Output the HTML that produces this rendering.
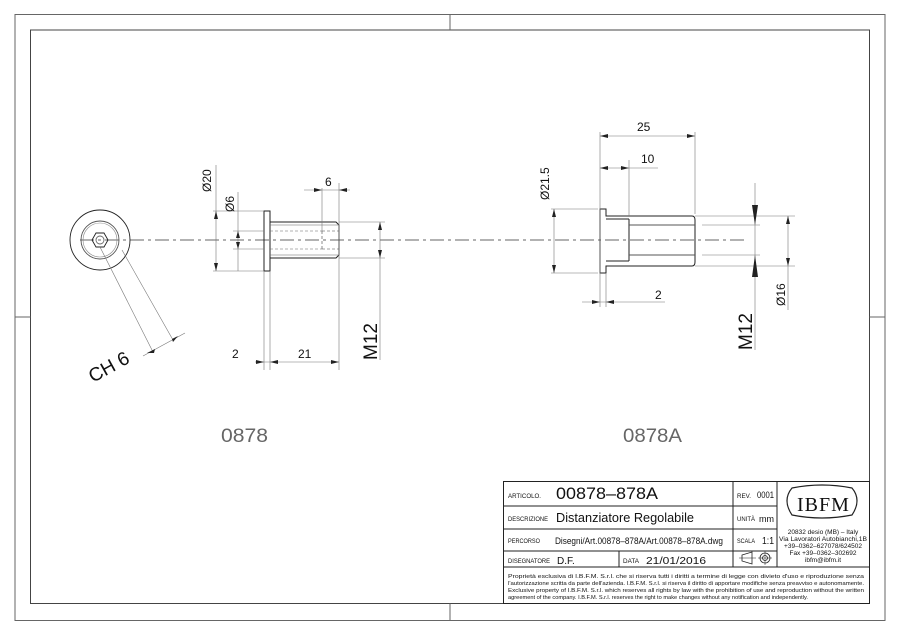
<!DOCTYPE html>
<html><head><meta charset="utf-8"><style>
html,body{margin:0;padding:0;background:#fff;}
svg{display:block;}
text{font-family:"Liberation Sans",sans-serif;fill:#111;}
</style></head><body>
<svg width="900" height="635" viewBox="0 0 900 635" xmlns="http://www.w3.org/2000/svg">
<rect x="0" y="0" width="900" height="635" fill="#fff"/>
<rect x="15" y="14.5" width="870" height="606" fill="none" stroke="#666" stroke-width="1"/>
<rect x="30.5" y="30" width="839" height="573.5" fill="none" stroke="#444" stroke-width="1"/>
<line x1="450" y1="14.5" x2="450" y2="30" stroke="#666"/>
<line x1="450" y1="603.5" x2="450" y2="620.5" stroke="#666"/>
<line x1="15" y1="317" x2="30.5" y2="317" stroke="#666"/>
<line x1="869.5" y1="317" x2="885" y2="317" stroke="#666"/>

<line x1="80" y1="240" x2="748" y2="240" stroke="#333" stroke-width="0.7" stroke-dasharray="14,4,3,4"/>

<g fill="none" stroke="#222" stroke-width="0.9">
<circle cx="100" cy="240" r="30"/>
<circle cx="100" cy="240" r="19" stroke="#555"/>
<circle cx="100" cy="240" r="17" stroke="#888" stroke-width="0.6"/>
<polygon points="108,240 104,233 96,233 92,240 96,247 104,247"/>
<circle cx="100" cy="240" r="4" stroke="#666"/>
</g>
<g stroke="#777" stroke-width="0.6" fill="none">
<line x1="100" y1="247" x2="153" y2="352"/>
<line x1="122" y1="250" x2="173" y2="340"/>
<line x1="143" y1="356" x2="185" y2="333"/>
</g>
<polygon points="147,353 155,349 154,353" fill="#222"/>
<polygon points="172,339 178,336 173,342" fill="#222"/>
<text x="0" y="0" font-size="19" transform="translate(93,383) rotate(-29)">CH 6</text>

<g fill="none" stroke="#222" stroke-width="1">
<rect x="264" y="211" width="6" height="60"/>
<path d="M270,222 L336,222 L339,225 L339,255 L336,258 L270,258"/>
</g>
<g fill="none" stroke="#666" stroke-width="0.6">
<line x1="270" y1="225" x2="339" y2="225"/>
<line x1="270" y1="255" x2="339" y2="255"/>
<path d="M322,231 L339,231 M322,249 L339,249 M322,231 L322,249" stroke-dasharray="3,2" stroke="#444"/>
<line x1="270" y1="231" x2="322" y2="231" stroke-dasharray="3,2"/>
<line x1="270" y1="249" x2="322" y2="249" stroke-dasharray="3,2"/>
</g>
<g stroke="#777" stroke-width="0.6" fill="none">
<line x1="213" y1="211" x2="264" y2="211"/>
<line x1="213" y1="271" x2="264" y2="271"/>
<line x1="216" y1="165" x2="216" y2="271"/>
<line x1="233" y1="231" x2="264" y2="231"/>
<line x1="233" y1="249" x2="264" y2="249"/>
<line x1="238" y1="192" x2="238" y2="271"/>
<line x1="322" y1="188" x2="322" y2="231"/>
<line x1="339" y1="183" x2="339" y2="370"/>
<line x1="304" y1="190" x2="350" y2="190"/>
<line x1="339" y1="222" x2="385" y2="222"/>
<line x1="339" y1="258" x2="385" y2="258"/>
<line x1="380" y1="222" x2="380" y2="360"/>
<line x1="264" y1="271" x2="264" y2="370"/>
<line x1="270" y1="271" x2="270" y2="370"/>
<line x1="255" y1="362" x2="339" y2="362"/>
</g>
<g fill="#222">
<polygon points="216,211 214,219 218,219"/><polygon points="216,271 214,263 218,263"/>
<polygon points="238,231 236,238 240,238"/><polygon points="238,249 236,242 240,242"/>
<polygon points="322,190 314,188 314,192"/><polygon points="339,190 347,188 347,192"/>
<polygon points="380,222 378,230 382,230"/><polygon points="380,258 378,250 382,250"/>
<polygon points="264,362 256,360 256,364"/><polygon points="270,362 278,360 278,364"/>
<polygon points="339,362 331,360 331,364"/>
</g>
<text x="0" y="0" font-size="12" transform="translate(211,192) rotate(-90)">Ø20</text>
<text x="0" y="0" font-size="12" transform="translate(234,212) rotate(-90)">Ø6</text>
<text x="325" y="186" font-size="12">6</text>
<text x="232" y="358" font-size="12">2</text>
<text x="298" y="358" font-size="12">21</text>
<text x="0" y="0" font-size="19" transform="translate(377,360) rotate(-90)">M12</text>
<text x="221" y="442" font-size="19" style="fill:#666" textLength="47" lengthAdjust="spacingAndGlyphs">0878</text>

<g fill="none" stroke="#222" stroke-width="1">
<path d="M600,209 L606,209 L606,216 L692,216 Q695,216 695,220 L695,262 Q695,266 692,266 L606,266 L606,273 L600,273 Z"/>
<line x1="606" y1="219" x2="629" y2="219"/>
<line x1="606" y1="261" x2="629" y2="261"/>
<line x1="629" y1="219" x2="629" y2="261"/>
<line x1="629" y1="225" x2="695" y2="225" stroke="#555"/>
<line x1="629" y1="255" x2="695" y2="255" stroke="#555"/>
</g>
<g stroke="#777" stroke-width="0.6" fill="none">
<line x1="551" y1="209" x2="598" y2="209"/>
<line x1="551" y1="273" x2="598" y2="273"/>
<line x1="554" y1="209" x2="554" y2="273"/>
<line x1="600" y1="132" x2="600" y2="307"/>
<line x1="606" y1="273" x2="606" y2="307"/>
<line x1="695" y1="132" x2="695" y2="214"/>
<line x1="629" y1="160" x2="629" y2="216"/>
<line x1="600" y1="136" x2="695" y2="136"/>
<line x1="600" y1="168" x2="658" y2="168"/>
<line x1="582" y1="302" x2="665" y2="302"/>
<line x1="702" y1="225" x2="760" y2="225"/>
<line x1="702" y1="255" x2="760" y2="255"/>
<line x1="755" y1="183" x2="755" y2="350"/>
<line x1="695" y1="216" x2="795" y2="216"/>
<line x1="695" y1="266" x2="795" y2="266"/>
<line x1="788" y1="216" x2="788" y2="310"/>
</g>
<g fill="#222">
<polygon points="554,209 552,217 556,217"/><polygon points="554,273 552,265 556,265"/>
<polygon points="600,136 608,134 608,138"/><polygon points="695,136 687,134 687,138"/>
<polygon points="600,168 608,166 608,170"/><polygon points="629,168 621,166 621,170"/>
<polygon points="600,302 592,300 592,304"/><polygon points="606,302 614,300 614,304"/>
<polygon points="755,225 752,205 758,205"/><polygon points="755,255 752,277 758,277"/>
<polygon points="788,216 786,224 790,224"/><polygon points="788,266 786,258 790,258"/>
</g>
<text x="637" y="131" font-size="12">25</text>
<text x="641" y="163" font-size="12">10</text>
<text x="655" y="299" font-size="12">2</text>
<text x="0" y="0" font-size="12" transform="translate(549,200) rotate(-90)">Ø21.5</text>
<text x="0" y="0" font-size="12" transform="translate(785,306) rotate(-90)">Ø16</text>
<text x="0" y="0" font-size="19" transform="translate(752,350) rotate(-90)">M12</text>
<text x="623" y="442" font-size="19" style="fill:#666" textLength="59" lengthAdjust="spacingAndGlyphs">0878A</text>

<g fill="none" stroke="#222" stroke-width="1">
<rect x="503.5" y="481.5" width="366" height="122"/>
<line x1="503.5" y1="506" x2="777" y2="506"/>
<line x1="503.5" y1="529" x2="777" y2="529"/>
<line x1="503.5" y1="551" x2="777" y2="551"/>
<line x1="503.5" y1="567" x2="869.5" y2="567"/>
<line x1="733" y1="481.5" x2="733" y2="567"/>
<line x1="777" y1="481.5" x2="777" y2="567"/>
<line x1="619" y1="551" x2="619" y2="567"/>
</g>
<g font-size="6.5">
<text x="508" y="498" textLength="33" lengthAdjust="spacingAndGlyphs">ARTICOLO.</text>
<text x="508" y="521" textLength="40" lengthAdjust="spacingAndGlyphs">DESCRIZIONE</text>
<text x="508" y="543" textLength="32" lengthAdjust="spacingAndGlyphs">PERCORSO</text>
<text x="508" y="563" textLength="42" lengthAdjust="spacingAndGlyphs">DISEGNATORE</text>
<text x="623" y="563" textLength="16" lengthAdjust="spacingAndGlyphs">DATA</text>
<text x="737" y="498" textLength="14" lengthAdjust="spacingAndGlyphs">REV.</text>
<text x="737" y="521" textLength="18" lengthAdjust="spacingAndGlyphs">UNITÀ</text>
<text x="737" y="543" textLength="18" lengthAdjust="spacingAndGlyphs">SCALA</text>
</g>
<text x="556" y="499" font-size="17" textLength="102" lengthAdjust="spacingAndGlyphs">00878–878A</text>
<text x="556" y="522" font-size="13" textLength="138" lengthAdjust="spacingAndGlyphs">Distanziatore Regolabile</text>
<text x="555" y="544" font-size="9" textLength="168" lengthAdjust="spacingAndGlyphs">Disegni/Art.00878–878A/Art.00878–878A.dwg</text>
<text x="557" y="564" font-size="10">D.F.</text>
<text x="646" y="564" font-size="10" textLength="60" lengthAdjust="spacingAndGlyphs">21/01/2016</text>
<text x="757" y="498" font-size="9" textLength="17" lengthAdjust="spacingAndGlyphs">0001</text>
<text x="759" y="522" font-size="9" textLength="15" lengthAdjust="spacingAndGlyphs">mm</text>
<text x="762" y="544" font-size="10" textLength="12" lengthAdjust="spacingAndGlyphs">1:1</text>
<g fill="none" stroke="#222" stroke-width="0.8">
<path d="M742,555 L752,552 L752,564 L742,561 Z"/>
<line x1="739" y1="558" x2="756" y2="558" stroke-width="0.5"/>
<circle cx="765" cy="558" r="5"/><circle cx="765" cy="558" r="2.5"/>
<line x1="758" y1="558" x2="772" y2="558" stroke-width="0.5"/>
<line x1="765" y1="551" x2="765" y2="565" stroke-width="0.5"/>
</g>
<path d="M792,488 Q822,482 852,488 Q862,500 852,515 Q822,521 792,515 Q782,500 792,488 Z" fill="none" stroke="#222" stroke-width="1.2"/>
<text x="797" y="511" font-size="20" style="font-family:'Liberation Serif',serif" letter-spacing="1">IBFM</text>
<g font-size="6.5" text-anchor="middle">
<text x="823" y="534">20832 desio (MB) – Italy</text>
<text x="823" y="541" textLength="88" lengthAdjust="spacingAndGlyphs">Via Lavoratori Autobianchi,1B</text>
<text x="823" y="548">+39–0362–627078/624502</text>
<text x="823" y="555">Fax +39–0362–302692</text>
<text x="823" y="562">ibfm@ibfm.it</text>
</g>
<g font-size="5.6">
<text x="508" y="578" textLength="356" lengthAdjust="spacingAndGlyphs">Proprietà esclusiva di I.B.F.M. S.r.l. che si riserva tutti i diritti a termine di legge con divieto d'uso e riproduzione senza</text>
<text x="508" y="585" textLength="356" lengthAdjust="spacingAndGlyphs">l'autorizzazione scritta da parte dell'azienda. I.B.F.M. S.r.l. si riserva il diritto di apportare modifiche senza preavviso e autonomamente.</text>
<text x="508" y="592" textLength="356" lengthAdjust="spacingAndGlyphs">Exclusive property of I.B.F.M. S.r.l. which reserves all rights by law with the prohibition of use and reproduction without the written</text>
<text x="508" y="599" textLength="300" lengthAdjust="spacingAndGlyphs">agreement of the company. I.B.F.M. S.r.l. reserves the right to make changes without any notification and independently.</text>
</g>
</svg>
</body></html>
